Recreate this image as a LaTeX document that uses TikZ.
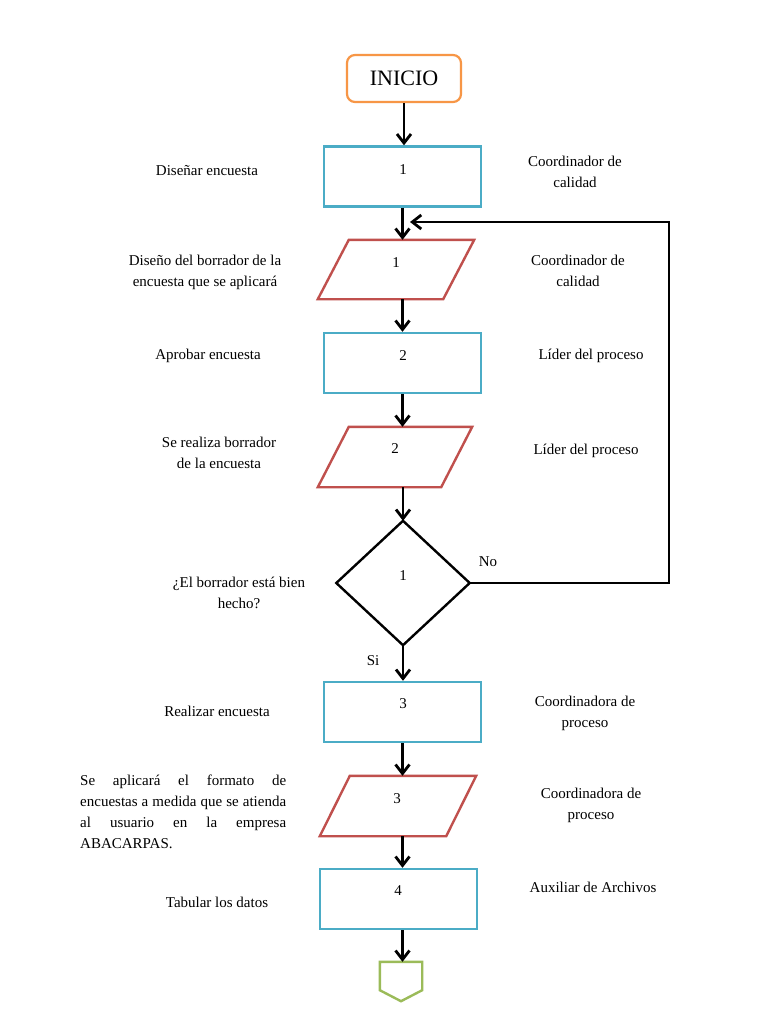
\documentclass[tikz,border=0pt]{standalone}
\usepackage{fontspec}
\setmainfont{Liberation Serif}
\usetikzlibrary{arrows.meta}
\definecolor{cOr}{HTML}{F79646}
\definecolor{cBl}{HTML}{4BACC6}
\definecolor{cRd}{HTML}{C0504D}
\definecolor{cGr}{HTML}{9BBB59}
\begin{document}
\begin{tikzpicture}[x=1pt,y=-1pt,
  txt/.style={font=\fontsize{15}{21}\selectfont, align=center, inner sep=0pt},
  procbox/.style={rectangle, draw=cBl, line width=2.4pt, minimum width=157pt, minimum height=60pt, inner sep=0pt},
  ghost/.style={rectangle, draw=none, inner sep=0pt},
  shapeline/.style={line width=2.4pt, line join=miter},
  arr/.style={line width=2.8pt, -{Straight Barb[length=9pt,width=14pt]}}
]
\useasboundingbox[fill=white] (0,0) rectangle (768,1024);

% shapes
\node[rectangle, rounded corners=8pt, draw=cOr, line width=2.2pt, minimum width=114pt, minimum height=47pt, inner sep=0pt, font=\fontsize{22}{26}\selectfont] (inicio) at (404,78.5) {INICIO};

\node[procbox] (box1) at (402.5,176.5) {};
\node[ghost, minimum width=156pt, minimum height=59pt] (p1) at (396,269.5) {};
\draw[shapeline, draw=cRd] ([xshift=31pt]p1.north west) -- (p1.north east) -- ([xshift=-31pt]p1.south east) -- (p1.south west) -- cycle;

\node[procbox] (box2) at (402.5,363) {};
\node[ghost, minimum width=154pt, minimum height=60pt] (p2) at (395,457) {};
\draw[shapeline, draw=cRd] ([xshift=31pt]p2.north west) -- (p2.north east) -- ([xshift=-31pt]p2.south east) -- (p2.south west) -- cycle;

\node[ghost, minimum width=133pt, minimum height=124pt] (dia) at (403,583) {};
\draw[shapeline, draw=black] (dia.north) -- (dia.east) -- (dia.south) -- (dia.west) -- cycle;

\node[procbox] (box3) at (402.5,712) {};
\node[ghost, minimum width=156pt, minimum height=60pt] (p3) at (398,806) {};
\draw[shapeline, draw=cRd] ([xshift=30pt]p3.north west) -- (p3.north east) -- ([xshift=-30pt]p3.south east) -- (p3.south west) -- cycle;

\node[procbox] (box4) at (398.5,899) {};

\node[ghost, minimum width=42pt, minimum height=39pt] (pent) at (401,981.5) {};
\draw[shapeline, draw=cGr] (pent.north west) -- (pent.north east) -- ([yshift=11pt]pent.south east) -- (pent.south) -- ([yshift=11pt]pent.south west) -- cycle;

% numbers inside shapes
\node[txt] (t1) at (403,170) {1};
\node[txt] (t2) at (396,263) {1};
\node[txt] (t3) at (403,356) {2};
\node[txt] (t4) at (395,449) {2};
\node[txt] (t5) at (403,576) {1};
\node[txt] (t6) at (403,704) {3};
\node[txt] (t7) at (397,799) {3};
\node[txt] (t8) at (398,891) {4};

% connectors
\draw[arr] (inicio.south) -- (inicio.south |- box1.north);
\draw[arr] (box1.south) -- (box1.south |- p1.north);
\draw[arr] (box1.south |- p1.south) -- (box2.north);
\draw[arr] (box2.south) -- (box2.south |- p2.north);
\draw[arr] (dia.north |- p2.south) -- (dia.north);
\draw[arr] (dia.south) -- (dia.south |- box3.north);
\draw[arr] (box3.south) -- (box3.south |- p3.north);
\draw[arr] (box3.south |- p3.south) -- (box3.south |- box4.north);
\draw[arr] (box3.south |- box4.south) -- (box3.south |- pent.north);

\coordinate (lc) at (669,222);
\coordinate (loopend) at (410,222);
\draw[arr, line join=miter] (dia.east) -| (lc) -- (loopend);

\node[txt] (no) at (488,562) {No};
\node[txt] (si) at (373,661) {Si};

% left texts
\node[txt] (l1) at (207,171) {Diseñar encuesta};
\node[txt] (l2) at (205,272.5) {Diseño del borrador de la\\encuesta que se aplicará};
\node[txt] (l3) at (208,356) {Aprobar encuesta};
\node[txt] (l4) at (219,452.5) {Se realiza borrador\\de la encuesta};
\node[txt] (l5) at (239,592.5) {¿El borrador está bien\\hecho?};
\node[txt] (l6) at (217,711) {Realizar encuesta};
\node[txt, text width=206pt, align=justify, anchor=north west] (l7) at (80,775) {Se aplicará el formato de\linebreak encuestas a medida que se atienda\linebreak al usuario en la empresa\linebreak ABACARPAS.};
\node[txt] (l8) at (217,902) {Tabular los datos};

% right texts
\node[txt] (r1) at (575,171.5) {Coordinador de\\calidad};
\node[txt] (r2) at (578,270.5) {Coordinador de\\calidad};
\node[txt] (r3) at (591,356) {Líder del proceso};
\node[txt] (r4) at (586,451) {Líder del proceso};
\node[txt] (r5) at (585,713.5) {Coordinadora de\\proceso};
\node[txt] (r6) at (591,805) {Coordinadora de\\proceso};
\node[txt] (r7) at (593,887) {Auxiliar de Archivos};
\end{tikzpicture}
\end{document}
